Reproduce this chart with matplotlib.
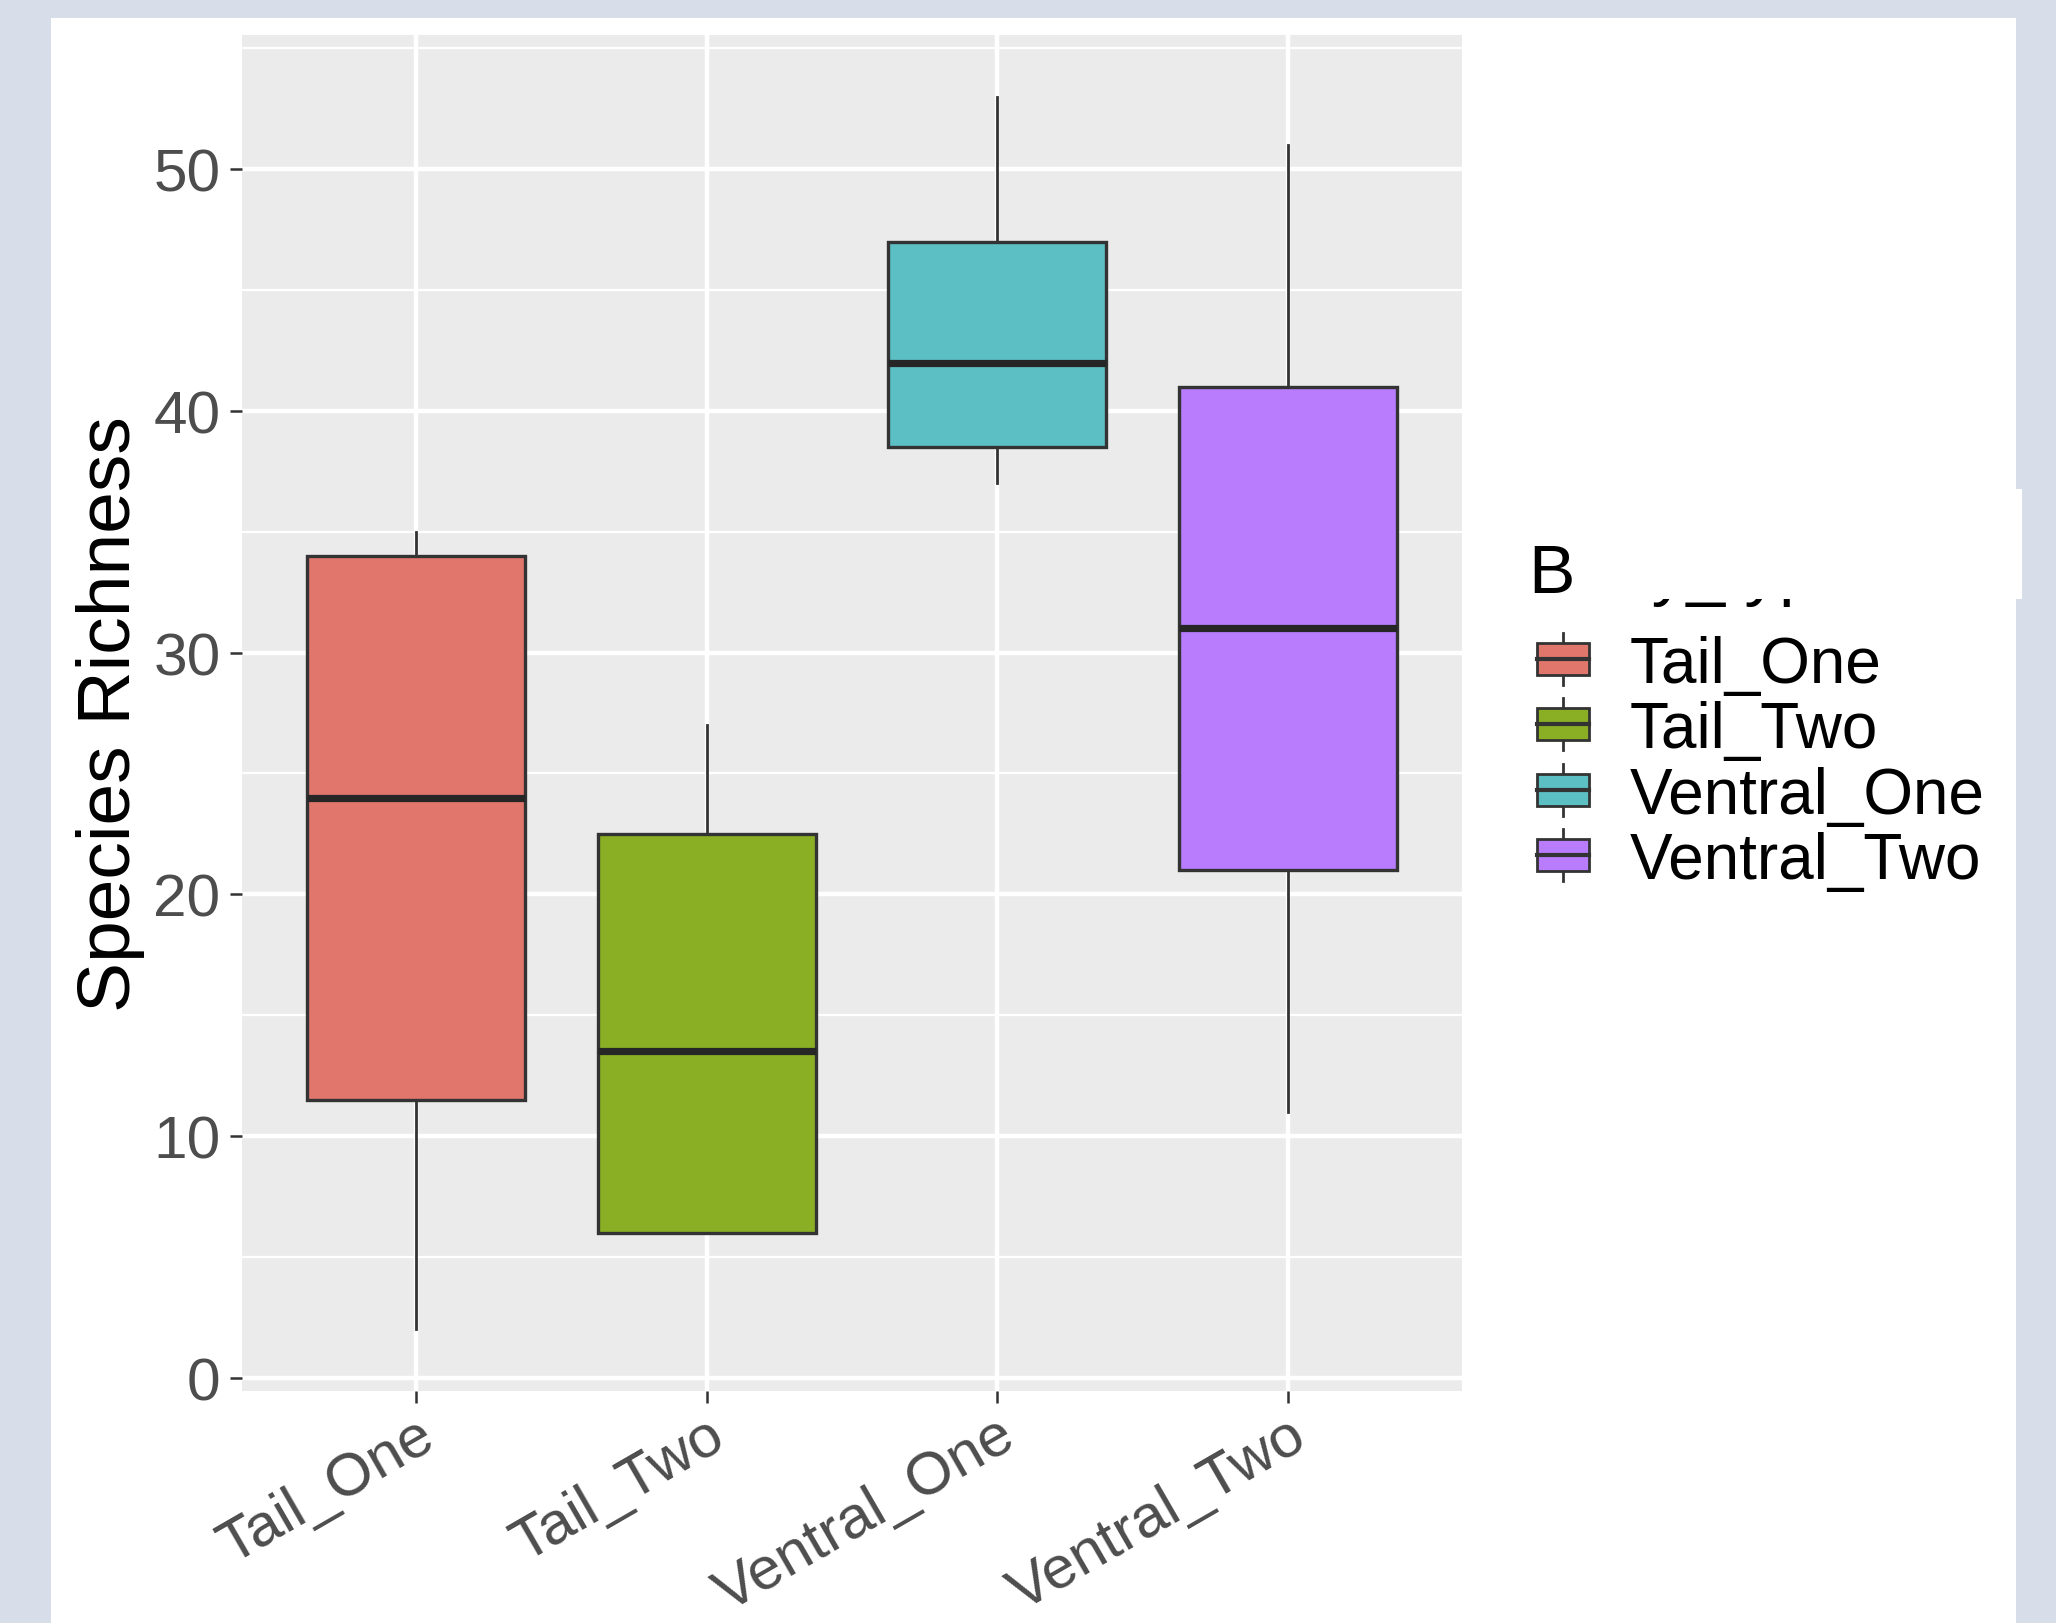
import matplotlib
matplotlib.use("Agg")
import matplotlib.pyplot as plt
from matplotlib.patches import Rectangle
from matplotlib.lines import Line2D

plt.rcParams['font.family'] = ['Liberation Sans', 'DejaVu Sans']

# === data ===
categories = ['Tail_One', 'Tail_Two', 'Ventral_One', 'Ventral_Two']
q1 = [11.5, 6.0, 38.5, 21.0]
median = [24.0, 13.5, 42.0, 31.0]
q3 = [34.0, 22.5, 47.0, 41.0]
whis_lo = [2.0, 6.0, 37.0, 11.0]
whis_hi = [35.0, 27.0, 53.0, 51.0]
fills = ['#E1766D', '#8AAF24', '#5CBFC4', '#B87CFD']
yticks = [0, 10, 20, 30, 40, 50]
legend_title = 'Body_type'

W, H = 2056, 1624
fig = plt.figure(figsize=(W / 100, H / 100), dpi=100, facecolor='#D7DDE9')

def fx(x):
    return x / W

def fy(y):
    return 1 - y / H

# white page over the light blue border
fig.patches.append(Rectangle((fx(51), 0), fx(2016) - fx(51), fy(19),
                             transform=fig.transFigure, facecolor='white',
                             edgecolor='none', zorder=0))

ax = fig.add_axes([fx(242), fy(1392), fx(1462) - fx(242), fy(36) - fy(1392)])
ax.set_zorder(2)
ax.set_facecolor('#EBEBEB')
for s in ax.spines.values():
    s.set_visible(False)

stats = []
for i, c in enumerate(categories):
    stats.append(dict(label=c, med=median[i], q1=q1[i], q3=q3[i],
                      whislo=whis_lo[i], whishi=whis_hi[i], fliers=[]))

pos = list(range(1, len(categories) + 1))
bp = ax.bxp(stats, positions=pos, widths=0.75, patch_artist=True,
            showcaps=False, showfliers=False,
            boxprops=dict(edgecolor='#333333', linewidth=2.4),
            whiskerprops=dict(color='#333333', linewidth=2.0),
            medianprops=dict(color='#262626', linewidth=5.2, solid_capstyle='butt'),
            zorder=3)
for patch, col in zip(bp['boxes'], fills):
    patch.set_facecolor(col)

ax.set_xlim(0.4, 4.6)
ax.set_ylim(-0.55, 55.55)
ax.set_yticks(yticks)
ax.set_yticks([5, 15, 25, 35, 45, 55], minor=True)
ax.grid(True, which='major', color='white', linewidth=3.2, zorder=0)
ax.grid(True, which='minor', axis='y', color='white', linewidth=1.6, zorder=0)
ax.set_axisbelow(True)

ax.tick_params(axis='both', which='major', length=8.5, width=1.8, color='#333333',
               labelsize=43.5, labelcolor='#4D4D4D', pad=7)
ax.tick_params(axis='x', which='major', pad=3)
ax.tick_params(axis='y', which='minor', length=0)
ax.set_xticks(pos)
ax.set_xticklabels(categories, rotation=30, ha='right', va='top',
                   rotation_mode='anchor')

ax.set_ylabel('Species Richness', fontsize=54, color='black', va='center')
ax.yaxis.set_label_coords((111 - 242) / 1220, 0.5)

# legend drawn by hand to mimic the ggplot key
row_y = [660, 725, 791, 856]
row_h = 65.6
kx0, kx1 = 1537, 1589
for cat, col, yc in zip(categories, fills, row_y):
    kxm = (kx0 + kx1) / 2
    fig.add_artist(Line2D([fx(kxm), fx(kxm)], [fy(yc - 0.4 * row_h), fy(yc + 0.4 * row_h)],
                          transform=fig.transFigure, color='#333333', lw=2.0, zorder=5))
    fig.add_artist(Rectangle((fx(kx0), fy(yc + 0.25 * row_h)), fx(kx1) - fx(kx0),
                             fy(yc - 0.25 * row_h) - fy(yc + 0.25 * row_h),
                             transform=fig.transFigure, facecolor=col,
                             edgecolor='#333333', lw=2.0, zorder=6))
    fig.add_artist(Line2D([fx(kx0), fx(kx1)], [fy(yc), fy(yc)],
                          transform=fig.transFigure, color='#333333', lw=3.0, zorder=7))
    fig.text(fx(1630), fy(yc + 23), cat, fontsize=46, color='black',
             ha='left', va='baseline')

fig.text(fx(1528), fy(593), legend_title, fontsize=50, color='black',
         ha='left', va='baseline', zorder=8)
# white patch hiding most of the legend title, as in the source image
fig.add_artist(Rectangle((fx(1576), fy(600)), fx(2022) - fx(1576), fy(490) - fy(600),
                         transform=fig.transFigure, facecolor='white',
                         edgecolor='none', zorder=9))

fig.savefig('out.png', dpi=100, facecolor=fig.get_facecolor())
